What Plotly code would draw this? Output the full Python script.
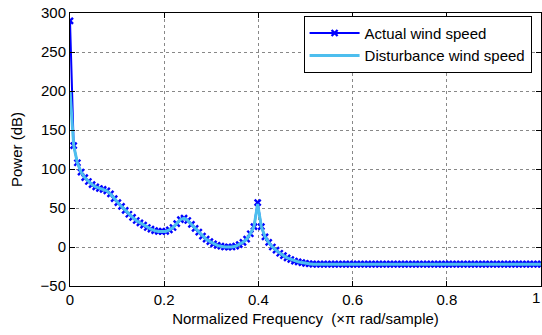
import plotly.graph_objects as go

n_points = 129
freq = [k / 128 for k in range(n_points)]

actual = [
    290, 130, 108, 96, 89, 84, 80, 77, 75, 74,
    72, 68, 62, 57, 52, 47, 42, 38, 34, 31,
    28, 25, 23, 21, 20, 20, 20, 22, 25, 30,
    35, 37, 34, 29, 24, 19, 14, 10, 7, 4,
    2, 1, 0, 0, 0, 1, 3, 6, 10, 17,
    26, 57, 26, 13, 6, 0, -4, -8, -11, -14,
    -16, -18, -19, -20, -21, -21.5, -22, -22, -22, -22,
    -22, -22, -22, -22, -22, -22, -22, -22, -22, -22,
    -22, -22, -22, -22, -22, -22, -22, -22, -22, -22,
    -22, -22, -22, -22, -22, -22, -22, -22, -22, -22,
    -22, -22, -22, -22, -22, -22, -22, -22, -22, -22,
    -22, -22, -22, -22, -22, -22, -22, -22, -22, -22,
    -22, -22, -22, -22, -22, -22, -22, -22, -22,
]

disturbance = [
    200, 130, 108, 96, 89, 84, 80, 77, 75, 74,
    72, 68, 62, 57, 52, 47, 42, 38, 34, 31,
    28, 25, 23, 21, 20, 20, 20, 22, 25, 30,
    35, 37, 34, 29, 24, 19, 14, 10, 7, 4,
    2, 1, 0, 0, 0, 1, 3, 6, 10, 17,
    26, 55, 26, 13, 6, 0, -4, -8, -11, -14,
    -16, -18, -19, -20, -21, -21.5, -22, -22, -22, -22,
    -22, -22, -22, -22, -22, -22, -22, -22, -22, -22,
    -22, -22, -22, -22, -22, -22, -22, -22, -22, -22,
    -22, -22, -22, -22, -22, -22, -22, -22, -22, -22,
    -22, -22, -22, -22, -22, -22, -22, -22, -22, -22,
    -22, -22, -22, -22, -22, -22, -22, -22, -22, -22,
    -22, -22, -22, -22, -22, -22, -22, -22, -22,
]

x_ticks = [0, 0.2, 0.4, 0.6, 0.8, 1]
x_tick_labels = ["0", "0.2", "0.4", "0.6", "0.8", ""]
x_last_label = "1"
y_ticks = [-50, 0, 50, 100, 150, 200, 250, 300]

FONT = "Liberation Sans, Arial, Helvetica, sans-serif"

fig = go.Figure()
fig.add_trace(go.Scatter(
    x=freq, y=actual, mode="lines+markers", name="Actual wind speed",
    line=dict(color="#0000FF", width=2),
    marker=dict(symbol="x-thin", size=6, color="#0000FF",
                line=dict(color="#0000FF", width=2.4)),
))
fig.add_trace(go.Scatter(
    x=freq, y=disturbance, mode="lines", name="Disturbance wind speed",
    line=dict(color="#4DBEEE", width=3),
))

axis_common = dict(
    showline=True, linecolor="black", linewidth=1, mirror="ticks",
    ticks="inside", ticklen=5, tickcolor="black",
    showgrid=True, gridcolor="#888888", griddash="dot", gridwidth=1,
    zeroline=False, tickfont=dict(family=FONT, size=15, color="black"),
    ticklabeloverflow="allow",
)

fig.update_xaxes(range=[0, 1], tickvals=x_ticks, ticktext=x_tick_labels,
                 title=dict(text="Normalized Frequency \u00a0(\u00d7\u03c0 rad/sample)",
                            font=dict(family=FONT, size=15, color="black"),
                            standoff=6),
                 **axis_common)
fig.update_yaxes(range=[-50, 300], tickvals=y_ticks,
                 title=dict(text="Power (dB)",
                            font=dict(family=FONT, size=15, color="black"),
                            standoff=14),
                 **axis_common)

fig.add_annotation(x=x_ticks[-1], xref="x", y=0, yref="paper",
                   text=x_last_label, showarrow=False,
                   xanchor="right", yanchor="top", yshift=-2, borderpad=0,
                   font=dict(family=FONT, size=15, color="black"))

fig.update_layout(
    width=542, height=335,
    margin=dict(l=70, r=1, t=13, b=49, autoexpand=False),
    paper_bgcolor="white", plot_bgcolor="white",
    font=dict(family=FONT, size=15, color="black"),
    showlegend=True,
    legend=dict(x=0.98, y=0.99, xanchor="right", yanchor="top",
                bgcolor="white", bordercolor="black", borderwidth=1,
                font=dict(family=FONT, size=15, color="black"),
                itemwidth=50, tracegroupgap=0),
)

fig.write_html("out.html")
